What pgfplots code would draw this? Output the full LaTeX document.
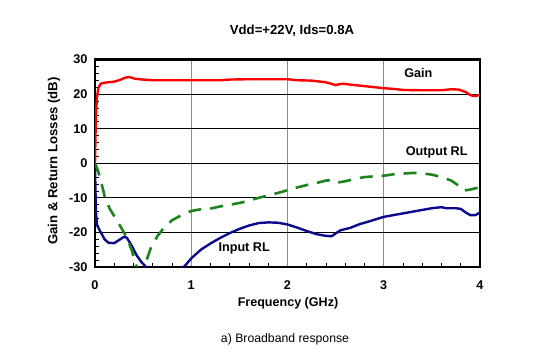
\documentclass[border=0pt]{standalone}
\usepackage{fontspec}
\setmainfont{Liberation Sans}
\usepackage{pgfplots}
\pgfplotsset{compat=1.18}
\definecolor{gainred}{RGB}{255,0,0}
\definecolor{inblue}{RGB}{10,10,140}
\definecolor{outgreen}{RGB}{30,130,30}
\begin{document}
\begin{tikzpicture}
\useasboundingbox (0,0) rectangle (557bp,360bp);
\begin{axis}[
  at={(95bp,93bp)}, anchor=south west,
  scale only axis, width=385bp, height=207.5bp,
  xmin=0, xmax=4, ymin=-30, ymax=30,
  xtick={0,1,2,3,4}, ytick={-30,-20,-10,0,10,20,30},
  minor x tick num=4, minor y tick num=4,
  tick align=inside, tick pos=left,
  major tick length=0pt, minor tick length=4bp,
  grid=major,
  x grid style={draw=gray!90, line width=1.3bp},
  y grid style={draw=black, line width=0.8bp},
  axis line style={line width=2.3bp},
  every tick/.style={black, line width=0.6bp},
  /pgf/number format/assume math mode=true,
  ticklabel style={font=\fontsize{12.7}{14}\selectfont\bfseries},
  xticklabel style={yshift=-10bp},
  yticklabel style={xshift=-4bp},
  clip=true,
]
\addplot[gainred, line width=2.4bp, line join=round] coordinates {
(0,0)(0.005,8)(0.01,14)(0.02,19)(0.035,21.8)(0.06,23)(0.1,23.3)(0.2,23.6)(0.25,24)(0.32,24.8)(0.36,24.9)(0.42,24.4)(0.5,24.2)(0.6,24.0)(0.8,24.0)(1.0,24.0)(1.3,24.0)(1.4,24.2)(1.6,24.3)(1.8,24.3)(2.0,24.3)(2.1,24.0)(2.25,23.9)(2.4,23.4)(2.5,22.6)(2.53,22.8)(2.57,23.0)(2.7,22.6)(2.9,22.0)(3.0,21.7)(3.1,21.5)(3.2,21.2)(3.4,21.1)(3.6,21.1)(3.7,21.4)(3.78,21.3)(3.85,20.6)(3.9,19.7)(3.95,19.4)(4.0,19.8)
};
\addplot[inblue, line width=2.4bp, line join=round] coordinates {
(0,-1)(0.005,-8)(0.01,-14)(0.02,-17.8)(0.05,-19.5)(0.1,-22)(0.14,-23)(0.2,-23.1)(0.25,-22.2)(0.3,-21.3)(0.33,-21.5)(0.38,-23.8)(0.43,-26.5)(0.48,-28.5)(0.53,-30)(0.6,-31)(0.7,-32)(0.8,-31.5)(0.88,-30.5)(0.93,-29.8)(1.0,-27.5)(1.1,-25)(1.2,-23.2)(1.3,-21.6)(1.4,-20.2)(1.5,-19)(1.6,-18)(1.7,-17.3)(1.8,-17.1)(1.9,-17.2)(2.0,-17.7)(2.1,-18.6)(2.2,-19.6)(2.3,-20.5)(2.4,-21)(2.46,-21.1)(2.5,-20.3)(2.55,-19.4)(2.65,-18.7)(2.75,-17.6)(2.85,-16.8)(3.0,-15.5)(3.1,-15.0)(3.2,-14.5)(3.3,-14.0)(3.4,-13.5)(3.5,-13.0)(3.6,-12.7)(3.65,-13.0)(3.75,-13.0)(3.8,-13.2)(3.85,-14.2)(3.9,-15.0)(3.95,-15.0)(4.0,-14.3)
};
\addplot[outgreen, line width=2.6bp, dash pattern=on 13bp off 9bp] coordinates {
(0,0)(0.03,-2)(0.06,-5)(0.1,-9.5)(0.15,-13)(0.2,-15.3)(0.27,-18.5)(0.33,-21.5)(0.38,-25)(0.42,-29)(0.45,-31)(0.49,-31)(0.53,-28.5)(0.58,-24.5)(0.65,-21)(0.72,-18.5)(0.8,-16.5)(0.9,-15)(1.0,-13.8)(1.1,-13.3)(1.2,-13.1)(1.3,-12.5)(1.4,-12)(1.5,-11.5)(1.6,-10.8)(1.7,-10.0)(1.8,-9.3)(1.9,-8.6)(2.0,-7.8)(2.1,-7.0)(2.2,-6.3)(2.3,-5.7)(2.4,-5.0)(2.46,-4.9)(2.52,-5.6)(2.6,-5.2)(2.7,-4.5)(2.8,-4.0)(2.9,-3.8)(3.0,-3.6)(3.1,-3.2)(3.2,-3.0)(3.3,-2.8)(3.4,-2.9)(3.5,-3.3)(3.6,-4.0)(3.7,-5.0)(3.78,-6.5)(3.83,-7.9)(3.9,-7.6)(4.0,-6.9)
};
\node[font=\fontsize{12.7}{14}\selectfont\bfseries] at (axis cs:3.36,26.1) {Gain};
\node[font=\fontsize{12.7}{14}\selectfont\bfseries] at (axis cs:3.55,3.2) {Output RL};
\node[font=\fontsize{12.7}{14}\selectfont\bfseries] at (axis cs:1.55,-24.5) {Input RL};
\end{axis}
\node[font=\fontsize{13.2}{15}\selectfont\bfseries] at (292bp,329bp) {Vdd=+22V, Ids=0.8A};
\node[font=\fontsize{12.6}{14}\selectfont\bfseries] at (288bp,57bp) {Frequency (GHz)};
\node[font=\fontsize{13.2}{15}\selectfont\bfseries, rotate=90] at (54bp,199bp) {Gain \& Return Losses (dB)};
\node[font=\fontsize{12.3}{14}\selectfont] at (285bp,21bp) {a) Broadband response};
\end{tikzpicture}
\end{document}
